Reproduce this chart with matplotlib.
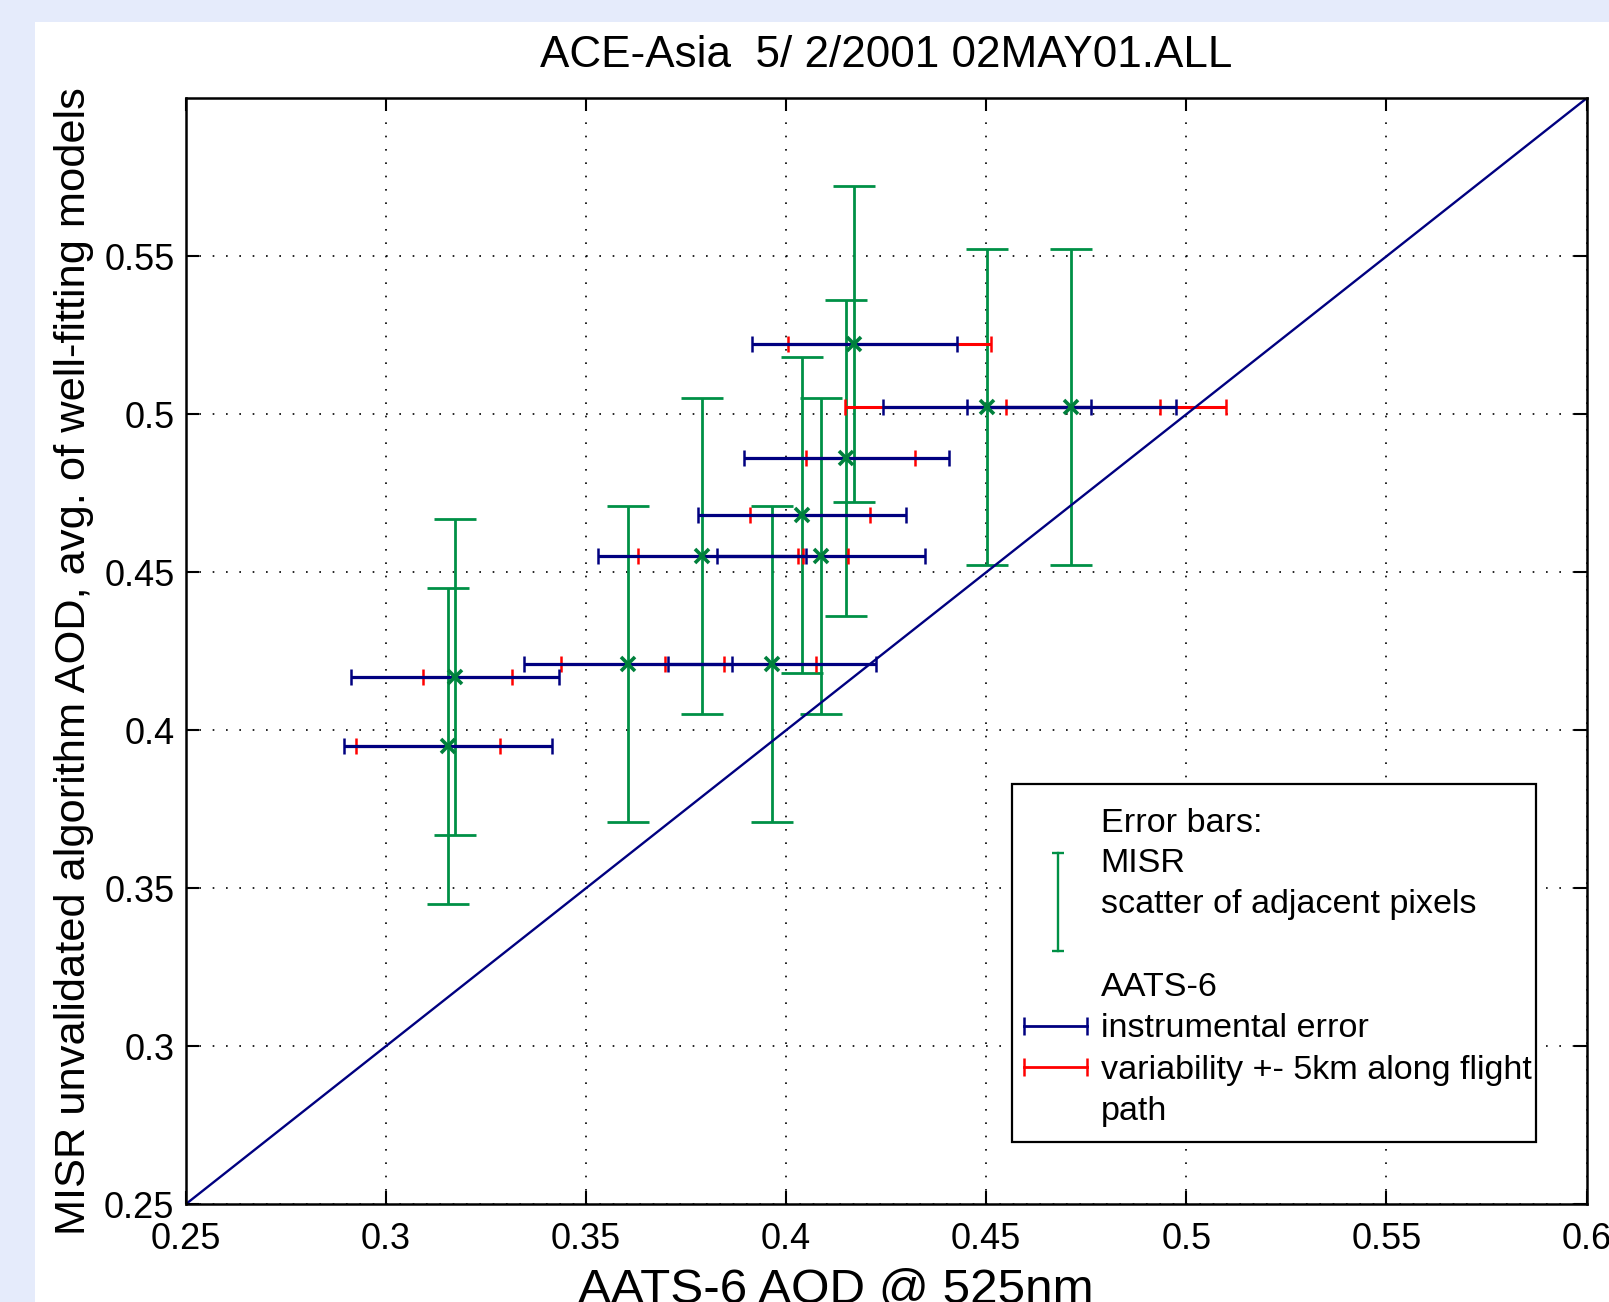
"""
MISR vs AATS-6 aerosol optical depth comparison, ACE-Asia 2 May 2001
"""

import matplotlib
matplotlib.use("Agg")
import matplotlib.pyplot as plt
from matplotlib.patches import Rectangle

plt.rcParams['font.family'] = ['Liberation Sans', 'DejaVu Sans']

# AATS-6 AOD @ 525nm (x) and MISR AOD (y) for each collocation
aats_aod = [0.3155, 0.3174, 0.3605, 0.3966, 0.3790, 0.4088,
            0.4039, 0.4151, 0.4171, 0.4503, 0.4713]
misr_aod = [0.3950, 0.4170, 0.4210, 0.4210, 0.4552, 0.4552,
            0.4680, 0.4861, 0.5221, 0.5022, 0.5022]
# MISR scatter of adjacent pixels (+/-)
misr_err = [0.050, 0.050, 0.050, 0.050, 0.050, 0.050,
            0.050, 0.050, 0.050, 0.050, 0.050]
# AATS-6 instrumental error (+/-)
aats_err = [0.026, 0.026, 0.026, 0.026, 0.026, 0.026,
            0.026, 0.0257, 0.0257, 0.026, 0.026]
# AATS-6 variability +- 5km along flight path (low / high bounds)
aats_var_lo = [0.2926, 0.3092, 0.3438, 0.3846, 0.3629, 0.4042,
               0.3910, 0.4050, 0.4006, 0.4147, 0.4550]
aats_var_hi = [0.3285, 0.3316, 0.3698, 0.4076, 0.4030, 0.4154,
               0.4209, 0.4323, 0.4513, 0.4935, 0.5100]

x_ticks = [0.25, 0.3, 0.35, 0.4, 0.45, 0.5, 0.55, 0.6]
x_tick_labels = ['0.25', '0.3', '0.35', '0.4', '0.45', '0.5', '0.55', '0.6']
y_ticks = [0.25, 0.3, 0.35, 0.4, 0.45, 0.5, 0.55]
y_tick_labels = ['0.25', '0.3', '0.35', '0.4', '0.45', '0.5', '0.55']
ax_range = [0.25, 0.6]

legend_lines = ['Error bars:', 'MISR', 'scatter of adjacent pixels', '',
                'AATS-6', 'instrumental error',
                'variability +- 5km along flight', 'path']

GREEN = '#009046'
NAVY = '#000080'
RED = '#ff0000'

W, H = 1609, 1302
fig = plt.figure(figsize=(W / 100, H / 100), dpi=100, facecolor='#e5ebfb')
fig.add_artist(Rectangle((35 / W, 0), 1, 1 - 22 / H, transform=fig.transFigure,
                         facecolor='white', edgecolor='none', zorder=0))

ax = fig.add_axes([185.6 / W, (H - 1204.3) / H, 1401 / W, 1106 / H])
ax.set_xlim(ax_range)
ax.set_ylim(ax_range)

# MISR error bars
ax.errorbar(aats_aod, misr_aod, yerr=misr_err, fmt='none', ecolor=GREEN,
            elinewidth=2.0, capsize=15, capthick=2.0, zorder=3)

# AATS variability (red) under instrumental error (blue)
var_lo = [a - lo for a, lo in zip(aats_aod, aats_var_lo)]
var_hi = [hi - a for a, hi in zip(aats_aod, aats_var_hi)]
ax.errorbar(aats_aod, misr_aod, xerr=[var_lo, var_hi], fmt='none', ecolor=RED,
            elinewidth=2.2, capsize=6, capthick=1.8, zorder=4)
ax.errorbar(aats_aod, misr_aod, xerr=aats_err, fmt='none', ecolor=NAVY,
            elinewidth=2.3, capsize=5.8, capthick=1.8, zorder=5)

ax.plot(aats_aod, misr_aod, 'x', color='#00803c', markersize=10,
        markeredgewidth=2.6, zorder=6)

# 1:1 line
ax.plot(ax_range, ax_range, color=NAVY, linewidth=1.7, zorder=7)

ax.set_xticks(x_ticks)
ax.set_xticklabels(x_tick_labels)
ax.set_yticks(y_ticks)
ax.set_yticklabels(y_tick_labels)
ax.tick_params(direction='in', top=True, right=True, length=9.5, width=1.5,
               labelsize=26)
ax.tick_params(axis='x', pad=13)
ax.tick_params(axis='y', pad=8)
ax.grid(True, color='k', linestyle=(0, (1, 7)), linewidth=1.2)
ax.set_axisbelow(True)
for sp in ax.spines.values():
    sp.set_linewidth(1.8)
    sp.set_zorder(10)

# hand-drawn legend box
ax.add_patch(Rectangle((0.5902, 0.0566), 0.9637 - 0.5902, 0.3800 - 0.0566,
                       transform=ax.transAxes, facecolor='white',
                       edgecolor='k', linewidth=1.6, zorder=8))
baselines = [0.3369, 0.3007, 0.2631, 0.2257, 0.1883, 0.1515, 0.1130, 0.0762]
for txt, yb in zip(legend_lines, baselines):
    if txt:
        ax.text(0.6532, yb, txt, transform=ax.transAxes, fontsize=24.6,
                va='baseline', ha='left', zorder=9, clip_on=False)
ax.plot([0.6227, 0.6227], [0.3179, 0.2293], transform=ax.transAxes,
        color=GREEN, linewidth=1.7, marker='_', markersize=8,
        markeredgewidth=1.7, zorder=9)
ax.plot([0.5984, 0.6434], [0.1612, 0.1612], transform=ax.transAxes,
        color=NAVY, linewidth=2.0, marker='|', markersize=13,
        markeredgewidth=1.8, zorder=9)
ax.plot([0.5984, 0.6434], [0.1244, 0.1244], transform=ax.transAxes,
        color=RED, linewidth=2.0, marker='|', markersize=13,
        markeredgewidth=1.8, zorder=9)

fig.text(886 / W, 1 - 66.7 / H, 'ACE-Asia  5/ 2/2001 02MAY01.ALL',
         fontsize=31.7, ha='center', va='baseline')
fig.text(74 / W, 1 - 661.5 / H,
         'MISR unvalidated algorithm AOD, avg. of well-fitting models',
         fontsize=31.2, rotation=90, ha='center', va='center')
fig.text(836 / W, -1 / H, 'AATS-6 AOD @ 525nm', fontsize=35.6,
         ha='center', va='baseline')

fig.savefig('out.png', dpi=100, facecolor=fig.get_facecolor())
